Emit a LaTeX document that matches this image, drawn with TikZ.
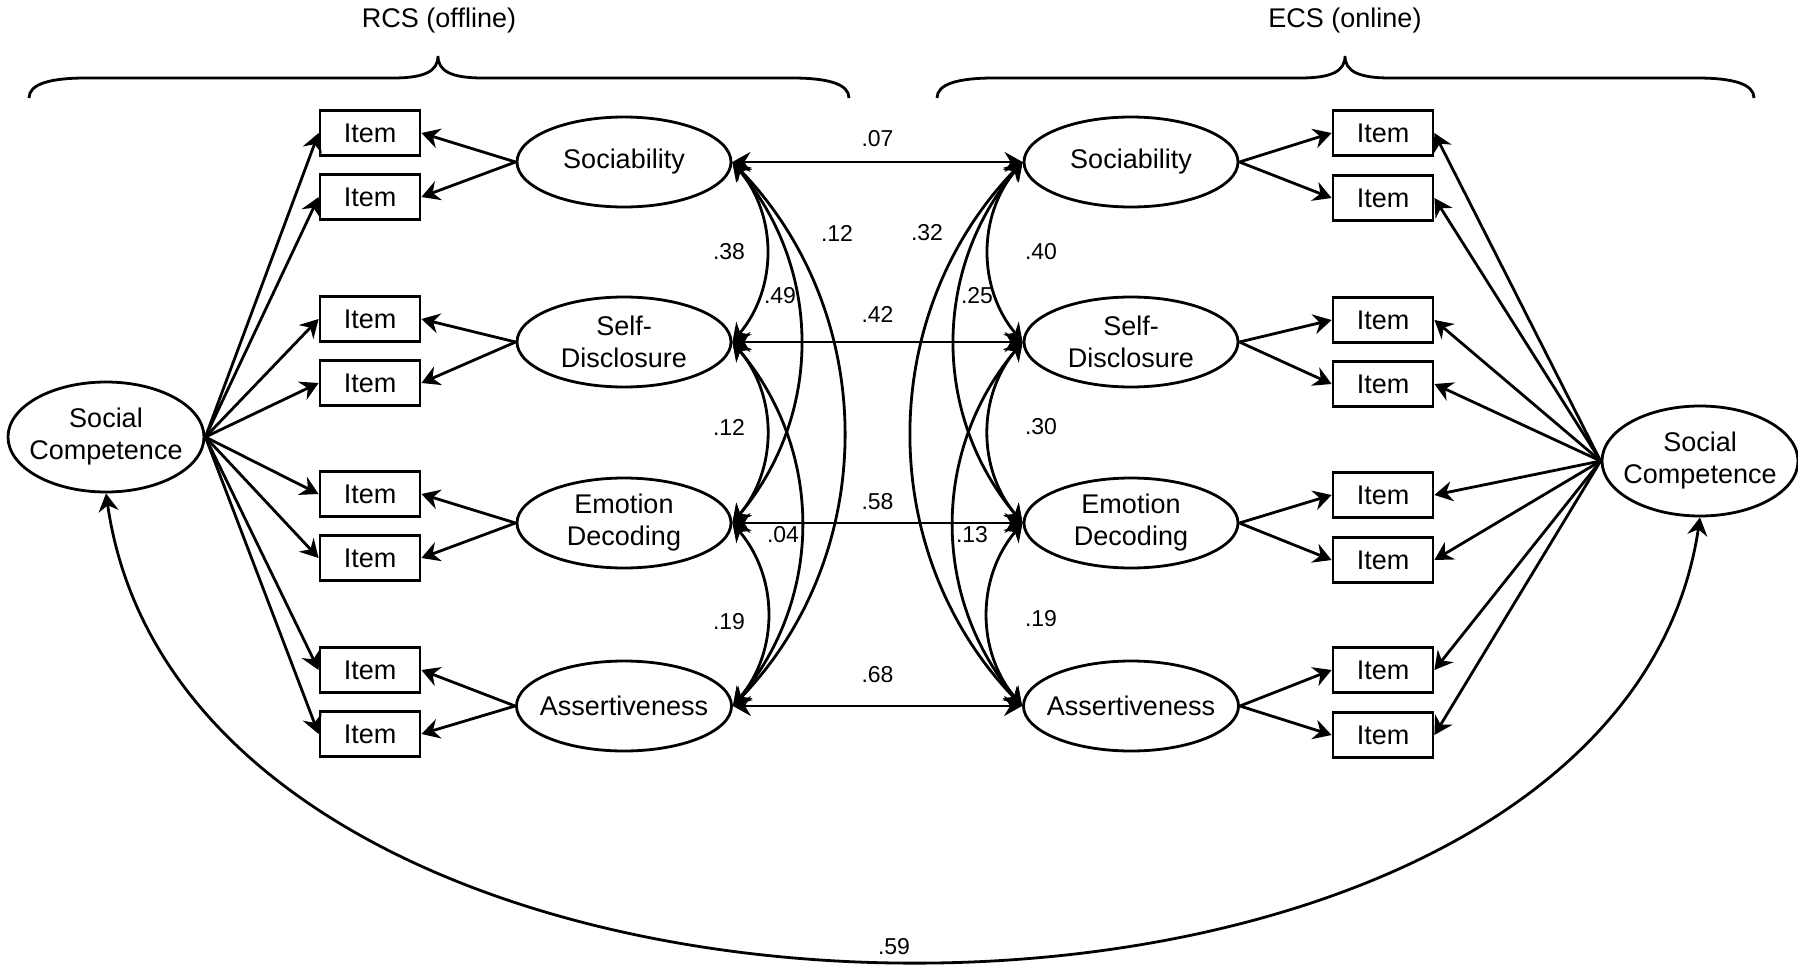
\documentclass[tikz,border=0pt]{standalone}
\usepackage{fontspec}
\setmainfont{Liberation Sans}
\usetikzlibrary{arrows.meta,shapes.geometric}

\tikzset{
  every node/.style={font=\fontsize{13.5}{16}\selectfont},
  latent/.style={draw, ellipse, line width=1.4pt, minimum width=107pt, minimum height=45pt, inner sep=0pt, inner xsep=-4pt, align=center},
  factor/.style={latent, minimum width=98pt, minimum height=55pt},
  item/.style={draw, rectangle, line width=1.4pt, minimum width=50pt, minimum height=22.5pt, inner sep=0pt},
  coef/.style={font=\fontsize{11.5}{13}\selectfont, inner sep=1pt},
  load/.style={-{Stealth[length=9pt,width=10pt,inset=3pt]}, line width=1.4pt},
  corr/.style={{Stealth[length=9pt,width=10pt,inset=3pt]}-{Stealth[length=9pt,width=10pt,inset=3pt]}, line width=1.4pt},
  brace/.style={line width=1.4pt},
}

\begin{document}
\begin{tikzpicture}[x=0.5pt,y=-0.5pt]
    \useasboundingbox (0,0) rectangle (1798,969);
    % headers
    \node (rcs) at (439,21) {RCS (offline)};
    \node (ecs) at (1345,21) {ECS (online)};
    \draw[brace] (29,98) .. controls (29,84) and (50,78) .. (86,78) -- (393,78)
        .. controls (425,78) and (438,71) .. (438,56) .. controls (438,71) and (451,78) .. (483,78)
        -- (792,78) .. controls (828,78) and (849,84) .. (849,98);
    \draw[brace] (937,98) .. controls (937,84) and (958,78) .. (994,78) -- (1300,78)
        .. controls (1332,78) and (1345,71) .. (1345,56) .. controls (1345,71) and (1358,78) .. (1390,78)
        -- (1697,78) .. controls (1733,78) and (1754,84) .. (1754,98);

    % factors
    \node[factor] (lsc) at (106,437) {Social\\Competence};
    \node[factor] (rsc) at (1700,461) {Social\\Competence};

    % latent variables
    \node[latent] (lsoc) at (624,162) {Sociability};
    \node[latent] (lsd)  at (624,342) {Self-\\Disclosure};
    \node[latent] (led)  at (624,523) {Emotion\\Decoding};
    \node[latent] (lass) at (624,706) {Assertiveness};
    \node[latent] (rsoc) at (1131,162) {Sociability};
    \node[latent] (rsd)  at (1131,342) {Self-\\Disclosure};
    \node[latent] (red)  at (1131,523) {Emotion\\Decoding};
    \node[latent] (rass) at (1131,706) {Assertiveness};

    % items
    \node[item] (li1) at (370,133) {Item};
    \node[item] (li2) at (370,197) {Item};
    \node[item] (li3) at (370,319) {Item};
    \node[item] (li4) at (370,383) {Item};
    \node[item] (li5) at (370,494) {Item};
    \node[item] (li6) at (370,558) {Item};
    \node[item] (li7) at (370,670) {Item};
    \node[item] (li8) at (370,734) {Item};
    \node[item] (ri1) at (1383,133) {Item};
    \node[item] (ri2) at (1383,198) {Item};
    \node[item] (ri3) at (1383,320) {Item};
    \node[item] (ri4) at (1383,384) {Item};
    \node[item] (ri5) at (1383,495) {Item};
    \node[item] (ri6) at (1383,560) {Item};
    \node[item] (ri7) at (1383,670) {Item};
    \node[item] (ri8) at (1383,735) {Item};

    % loadings
    \foreach \i in {1,...,8} {
        \draw[load] (lsc.east) -- (li\i.west);
        \draw[load] (rsc.west) -- (ri\i.east);
    }
    \foreach \lv/\a/\b in {soc/1/2, sd/3/4, ed/5/6, ass/7/8} {
        \draw[load] (l\lv.west) -- (li\a.east);
        \draw[load] (l\lv.west) -- (li\b.east);
        \draw[load] (r\lv.east) -- (ri\a.west);
        \draw[load] (r\lv.east) -- (ri\b.west);
    }

    % offline vs online
    \draw[corr] (lsoc.east) -- node[coef, above=6pt] (c07) {.07} (rsoc.west);
    \draw[corr] (lsd.east)  -- node[coef, above=8pt] (c42) {.42} (rsd.west);
    \draw[corr] (led.east)  -- node[coef, above=5pt] (c58) {.58} (red.west);
    \draw[corr] (lass.east) -- node[coef, above=10pt] (c68) {.68} (rass.west);

    % within RCS
    \draw[corr] (lsoc.east) to[bend left=40] (lsd.east);
    \draw[corr] (lsd.east)  to[bend left=40] (led.east);
    \draw[corr] (led.east)  to[bend left=40] (lass.east);
    \draw[corr] (lsoc.east) to[bend left=40] (led.east);
    \draw[corr] (lsd.east)  to[bend left=40] (lass.east);
    \draw[corr] (lsoc.east) to[bend left=44] (lass.east);
    \node[coef] (l-soc-sd)  at (729,252) {.38};
    \node[coef] (l-soc-ed)  at (780,296) {.49};
    \node[coef] (l-soc-ass) at (837,233) {.12};
    \node[coef] (l-sd-ed)   at (729,427) {.12};
    \node[coef] (l-sd-ass)  at (783,535) {.04};
    \node[coef] (l-ed-ass)  at (729,622) {.19};

    % within ECS
    \draw[corr] (rsoc.west) to[bend right=40] (rsd.west);
    \draw[corr] (rsd.west)  to[bend right=40] (red.west);
    \draw[corr] (red.west)  to[bend right=40] (rass.west);
    \draw[corr] (rsoc.west) to[bend right=40] (red.west);
    \draw[corr] (rsd.west)  to[bend right=40] (rass.west);
    \draw[corr] (rsoc.west) to[bend right=44] (rass.west);
    \node[coef] (r-soc-sd)  at (1041,252) {.40};
    \node[coef] (r-soc-ed)  at (977,296) {.25};
    \node[coef] (r-soc-ass) at (927,233) {.32};
    \node[coef] (r-sd-ed)   at (1041,427) {.30};
    \node[coef] (r-sd-ass)  at (972,535) {.13};
    \node[coef] (r-ed-ass)  at (1041,619) {.19};

    % social competence offline vs online
    \draw[corr] (lsc.south) .. controls (195,1112) and (1612,1112) .. (rsc.south);
    \node[coef] (c59) at (894,947) {.59};
\end{tikzpicture}
\end{document}
